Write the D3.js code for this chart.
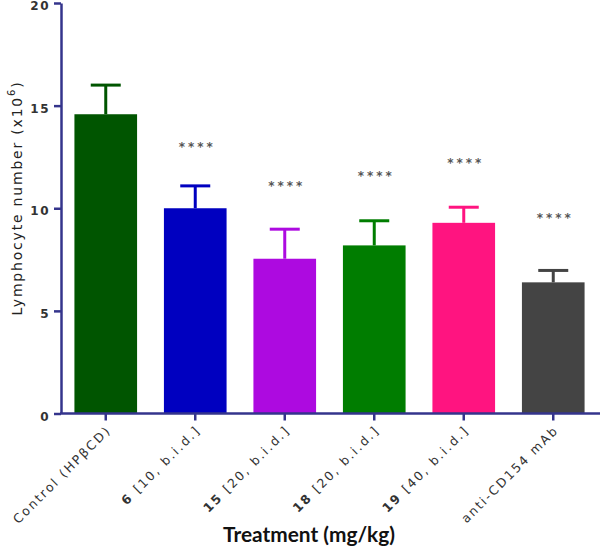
<!DOCTYPE html>
<html><head><meta charset="utf-8">
<script src="https://cdn.jsdelivr.net/npm/d3@7"></script>
<style>body{margin:0;background:#fff}svg{display:block}</style>
</head><body>
<svg id="c" width="600" height="547"></svg>
<script>
const categories = ["Control (HPβCD)", "6 [10, b.i.d.]", "15 [20, b.i.d.]", "18 [20, b.i.d.]", "19 [40, b.i.d.]", "anti-CD154 mAb"];
const boldPrefix = ["", "6", "15", "18", "19", ""];
const means = [14.58, 10.0, 7.54, 8.19, 9.29, 6.39];
const errTops = [16.0, 11.09, 8.98, 9.39, 10.05, 6.97];
const starLevels = [null, 13.13, 11.22, 11.71, 12.35, 9.66];
const starLabels = ["", "****", "****", "****", "****", "****"];
const colors = ["#005500", "#0000c0", "#ad0ae0", "#007d00", "#ff1480", "#444444"];
const yTicks = [0, 5, 10, 15, 20];

const svg = d3.select("#c");
const axisColor = "#34348c";
const x = d3.scaleBand().domain(categories).range([61, 598]).paddingInner(0.3).paddingOuter(0.15);
const y = d3.scaleLinear().domain([0, 20]).range([413.5, 3]);

// bars
svg.selectAll("rect.bar").data(categories).enter().append("rect")
  .attr("x", d => x(d)).attr("width", x.bandwidth())
  .attr("y", (d, i) => y(means[i])).attr("height", (d, i) => y(0) - y(means[i]))
  .attr("fill", (d, i) => colors[i]);

// error bars
const eb = svg.selectAll("g.err").data(categories).enter().append("g");
eb.append("line")
  .attr("x1", d => x(d) + x.bandwidth() / 2).attr("x2", d => x(d) + x.bandwidth() / 2)
  .attr("y1", (d, i) => y(means[i])).attr("y2", (d, i) => y(errTops[i]))
  .attr("stroke", (d, i) => colors[i]).attr("stroke-width", 3);
eb.append("line")
  .attr("x1", d => x(d) + x.bandwidth() / 2 - 15).attr("x2", d => x(d) + x.bandwidth() / 2 + 15)
  .attr("y1", (d, i) => y(errTops[i])).attr("y2", (d, i) => y(errTops[i]))
  .attr("stroke", (d, i) => colors[i]).attr("stroke-width", 3);

// stars
svg.selectAll("text.star").data(categories).enter().append("text")
  .filter((d, i) => starLevels[i] !== null)
  .attr("x", d => x(d) + x.bandwidth() / 2 + 2)
  .attr("y", d => y(starLevels[categories.indexOf(d)]) + 7)
  .attr("text-anchor", "middle")
  .attr("font-family", "DejaVu Sans").attr("font-size", 12).attr("font-weight", "bold")
  .attr("letter-spacing", 3).attr("fill", "#555")
  .text(d => starLabels[categories.indexOf(d)]);

// y axis
const yAxis = svg.append("g").attr("transform", "translate(61,0)")
  .call(d3.axisLeft(y).tickValues(yTicks).tickSize(7).tickSizeOuter(0).tickPadding(4));
yAxis.select(".domain").attr("stroke", axisColor).attr("stroke-width", 2.5);
yAxis.selectAll(".tick line").attr("stroke", axisColor).attr("stroke-width", 2.5);
yAxis.selectAll(".tick text").attr("font-family", "DejaVu Sans").attr("font-size", 12)
  .attr("font-weight", "bold").attr("letter-spacing", 1.5).attr("fill", "#333")
  .attr("dy", "0.55em");

// x axis
const xAxis = svg.append("g").attr("transform", "translate(0,413.5)")
  .call(d3.axisBottom(x).tickSize(7).tickSizeOuter(0).tickFormat(""));
xAxis.select(".domain").attr("stroke", axisColor).attr("stroke-width", 2.5).attr("d", "M60,0H600");
xAxis.selectAll(".tick line").attr("stroke", axisColor).attr("stroke-width", 2.5);

// x tick labels
const xl = svg.selectAll("text.xl").data(categories).enter().append("text")
  .attr("transform", d => `translate(${x(d) + x.bandwidth() / 2 + 6},${431}) rotate(-45)`)
  .attr("text-anchor", "end")
  .attr("font-family", "DejaVu Sans").attr("font-size", 12.5).attr("letter-spacing", 2)
  .attr("fill", "#333");
xl.each(function(d, i) {
  const t = d3.select(this);
  const pre = boldPrefix[i];
  if (pre) {
    t.append("tspan").attr("font-weight", "bold").text(pre);
    t.append("tspan").text(d.slice(pre.length));
  } else {
    t.text(d);
  }
});

// axis titles
svg.append("text").attr("x", 309).attr("y", 542).attr("text-anchor", "middle")
  .attr("font-family", "Lato").attr("font-weight", "bold").attr("font-size", 20)
  .attr("textLength", 172).attr("lengthAdjust", "spacingAndGlyphs")
  .attr("fill", "#111").text("Treatment (mg/kg)");

const yt = svg.append("text").attr("transform", "translate(22,198) rotate(-90)")
  .attr("text-anchor", "middle").attr("font-family", "DejaVu Sans").attr("font-size", 14)
  .attr("letter-spacing", 1.8).attr("fill", "#222");
yt.append("tspan").text("Lymphocyte number (x10");
yt.append("tspan").attr("dy", -7).attr("font-size", 10).text("6");
yt.append("tspan").attr("dy", 7).text(")");
</script>
</body></html>
